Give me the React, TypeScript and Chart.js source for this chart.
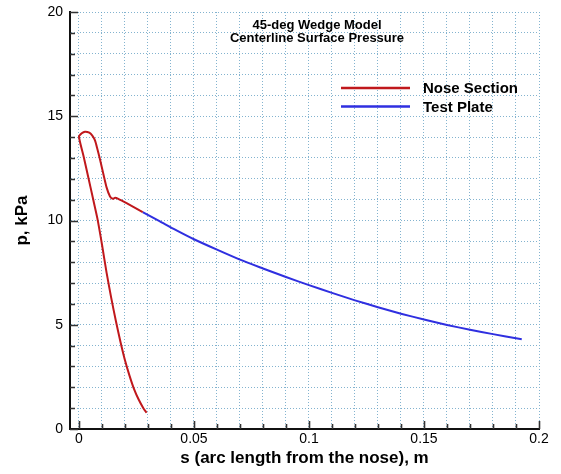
import { useEffect, useRef } from "react";
import { Chart, registerables } from "chart.js";

Chart.register(...registerables);

// ---- text ----
const TITLE_LINES = ["45-deg Wedge Model", "Centerline Surface Pressure"];
const X_TITLE = "s (arc length from the nose), m";
const Y_TITLE = "p, kPa";
const SERIES_NAMES = ["Nose Section", "Test Plate"];

// ---- data ----
const noseS = [
  0.0294, 0.028, 0.026, 0.024, 0.022, 0.02, 0.018, 0.016, 0.014, 0.012,
  0.01, 0.008, 0.006, 0.004, 0.002, 0.0, 0.0012, 0.0026, 0.0045, 0.0058,
  0.007, 0.008, 0.0091, 0.0106, 0.012, 0.0135, 0.0147, 0.0157, 0.0171, 0.0207,
  0.0277,
];
const noseP = [
  0.78, 1.0, 1.4, 1.9, 2.55, 3.3, 4.2, 5.2, 6.3, 7.5,
  8.85, 10.1, 11.1, 12.1, 13.08, 14.02, 14.18, 14.26, 14.21, 14.07,
  13.83, 13.43, 12.95, 12.23, 11.59, 11.15, 11.04, 11.09, 11.04, 10.83,
  10.4,
];
const plateS = [
  0.0277, 0.035, 0.042, 0.05, 0.06, 0.07, 0.08, 0.09, 0.1, 0.11,
  0.12, 0.13, 0.14, 0.15, 0.16, 0.17, 0.18, 0.19, 0.1925,
];
const plateP = [
  10.4, 9.97, 9.55, 9.1, 8.6, 8.12, 7.7, 7.29, 6.9, 6.53,
  6.17, 5.84, 5.53, 5.25, 4.99, 4.76, 4.55, 4.35, 4.3,
];

// ---- axes ----
const X_MIN = -0.0039;
const X_MAX = 0.2;
const X_TICKS = [
  0, 0.01, 0.02, 0.03, 0.04, 0.05, 0.06, 0.07, 0.08, 0.09, 0.1,
  0.11, 0.12, 0.13, 0.14, 0.15, 0.16, 0.17, 0.18, 0.19, 0.2,
];
const X_LABELED = [0, 0.05, 0.1, 0.15, 0.2];
const Y_MIN = 0;
const Y_MAX = 20;
const Y_TICKS = [0, 1, 2, 3, 4, 5, 6, 7, 8, 9, 10, 11, 12, 13, 14, 15, 16, 17, 18, 19, 20];
const Y_LABELED = [0, 5, 10, 15, 20];

const COLORS = ["#c0181c", "#2f2fe0"];
const FONT = "'Liberation Sans', Arial, Helvetica, sans-serif";

const isLabeled = (list: number[], v: number) => list.some((t) => Math.abs(t - v) < 1e-9);

const innerTicks = {
  id: "innerTicks",
  afterDraw(chart: any) {
    const { ctx, chartArea } = chart;
    const xs = chart.scales.x;
    const ys = chart.scales.y;
    ctx.save();
    ctx.strokeStyle = "#333";
    ctx.lineWidth = 1.6;
    ctx.beginPath();
    xs.ticks.forEach((t: any) => {
      const px = Math.round(xs.getPixelForValue(t.value)) + 0.5;
      const len = isLabeled(X_LABELED, t.value) ? 8 : 5;
      ctx.moveTo(px, chartArea.bottom);
      ctx.lineTo(px, chartArea.bottom - len);
    });
    ys.ticks.forEach((t: any) => {
      const py = Math.round(ys.getPixelForValue(t.value)) + 0.5;
      const len = isLabeled(Y_LABELED, t.value) ? 8 : 5;
      ctx.moveTo(chartArea.left, py);
      ctx.lineTo(chartArea.left + len, py);
    });
    ctx.stroke();
    ctx.restore();
  },
};

const titleAndLegend = {
  id: "titleAndLegend",
  afterDraw(chart: any) {
    const { ctx } = chart;
    ctx.save();
    ctx.fillStyle = "#000";
    ctx.textAlign = "center";
    ctx.textBaseline = "middle";
    ctx.font = `bold 13px ${FONT}`;
    TITLE_LINES.forEach((line, i) => ctx.fillText(line, 317, 25 + i * 13));

    ctx.font = `bold 15px ${FONT}`;
    ctx.textAlign = "left";
    chart.data.datasets.forEach((ds: any, i: number) => {
      const y = 88 + i * 18.5;
      ctx.strokeStyle = ds.borderColor;
      ctx.lineWidth = 2.5;
      ctx.beginPath();
      ctx.moveTo(341, y);
      ctx.lineTo(410, y);
      ctx.stroke();
      ctx.fillText(ds.label, 423, y + 1);
    });
    ctx.restore();
  },
};

export default function App() {
  const ref = useRef<HTMLCanvasElement>(null);

  useEffect(() => {
    if (!ref.current) return;
    Chart.defaults.font.family = FONT;
    Chart.defaults.color = "#000";
    const chart = new Chart(ref.current, {
      type: "scatter",
      data: {
        datasets: [
          {
            label: SERIES_NAMES[0],
            data: noseS.map((s, i) => ({ x: s, y: noseP[i] })),
            showLine: true,
            borderColor: COLORS[0],
            backgroundColor: COLORS[0],
            borderWidth: 2,
            pointRadius: 0,
            tension: 0.2,
          },
          {
            label: SERIES_NAMES[1],
            data: plateS.map((s, i) => ({ x: s, y: plateP[i] })),
            showLine: true,
            borderColor: COLORS[1],
            backgroundColor: COLORS[1],
            borderWidth: 2,
            pointRadius: 0,
            tension: 0.2,
          },
        ],
      },
      options: {
        animation: false,
        responsive: false,
        devicePixelRatio: 1,
        layout: { padding: { left: 0, right: 22, top: 12, bottom: 0 } },
        plugins: {
          legend: { display: false },
          title: { display: false },
          tooltip: { enabled: false },
        },
        scales: {
          x: {
            type: "linear",
            min: X_MIN,
            max: X_MAX,
            bounds: "data",
            afterBuildTicks: (s: any) => {
              s.ticks = X_TICKS.map((v) => ({ value: v }));
            },
            afterFit: (s: any) => {
              s.height = 45;
              s.paddingLeft = 0;
              s.paddingRight = 0;
            },
            ticks: {
              autoSkip: false,
              maxRotation: 0,
              padding: 2,
              font: { size: 14 },
              callback: (v: any) => (isLabeled(X_LABELED, Number(v)) ? String(+Number(v).toFixed(2)) : ""),
            },
            grid: {
              color: "rgba(100,160,195,0.8)",
              lineWidth: 1,
              drawTicks: false,
            },
            border: { display: true, color: "#111", width: 2, dash: [1, 2] },
            title: {
              display: true,
              text: X_TITLE,
              font: { size: 17, weight: "bold" },
              padding: { top: 0, bottom: 5 },
            },
          },
          y: {
            type: "linear",
            min: Y_MIN,
            max: Y_MAX,
            bounds: "data",
            afterBuildTicks: (s: any) => {
              s.ticks = Y_TICKS.map((v) => ({ value: v }));
            },
            afterFit: (s: any) => {
              s.width = 70;
              s.paddingTop = 0;
              s.paddingBottom = 0;
            },
            ticks: {
              autoSkip: false,
              padding: 7,
              font: { size: 14 },
              callback: (v: any) => (isLabeled(Y_LABELED, Number(v)) ? String(Number(v)) : ""),
            },
            grid: {
              color: "rgba(100,160,195,0.8)",
              lineWidth: 1,
              drawTicks: false,
            },
            border: { display: true, color: "#111", width: 2, dash: [1, 2] },
            title: {
              display: true,
              text: Y_TITLE,
              font: { size: 17, weight: "bold" },
              padding: { top: 12, bottom: 0 },
            },
          },
        },
      },
      plugins: [innerTicks, titleAndLegend],
    } as any);
    return () => chart.destroy();
  }, []);

  return (
    <div style={{ position: "fixed", left: 0, top: 0, width: 561, height: 474, background: "#fff" }}>
      <canvas ref={ref} width={561} height={474} style={{ display: "block" }} />
    </div>
  );
}
